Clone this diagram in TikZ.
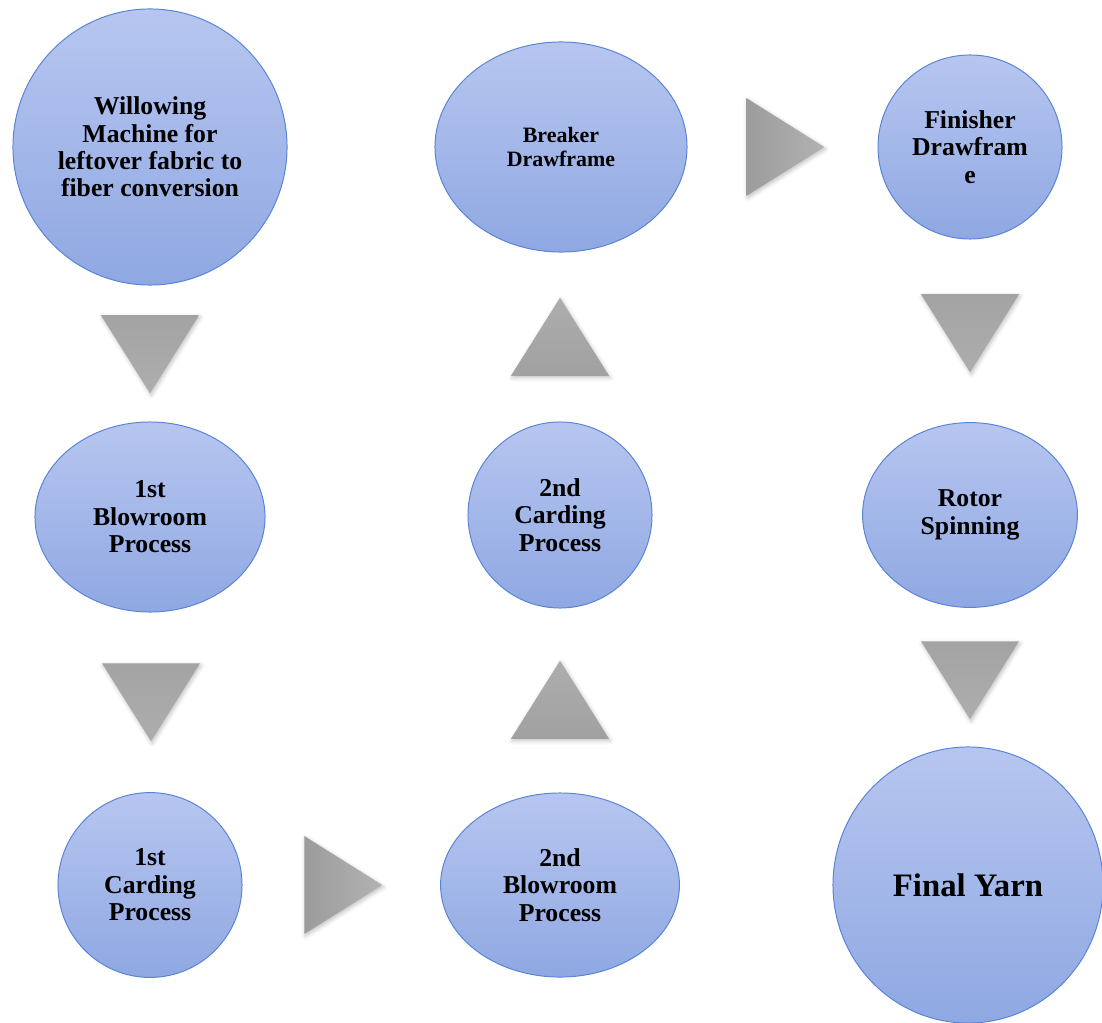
\documentclass[tikz,border=0pt]{standalone}
\usepackage{fontspec}
\setmainfont{Liberation Serif}
\usetikzlibrary{shapes.geometric,shadows.blur}
\definecolor{stagetop}{RGB}{183,198,240}
\definecolor{stagebot}{RGB}{143,168,226}
\definecolor{stageline}{RGB}{90,132,214}
\begin{document}
\begin{tikzpicture}[x=0.025cm, y=-0.025cm]
    \tikzstyle{stage} = [ellipse, draw=stageline, line width=0.7pt, top color=stagetop, bottom color=stagebot, inner sep=0pt, align=center, font=\fontsize{18.3}{19.5}\selectfont\bfseries]
    \tikzstyle{pointer} = [isosceles triangle, isosceles triangle stretches, inner sep=0pt, minimum height=1.95cm, minimum width=2.45cm, anchor=apex, blur shadow={shadow xshift=0.3mm, shadow yshift=-0.5mm, shadow blur radius=1mm, shadow opacity=25}]
    \tikzstyle{pdown} = [pointer, shape border rotate=270, top color=gray!72, bottom color=gray!64]
    \tikzstyle{pup} = [pointer, shape border rotate=90, top color=gray!64, bottom color=gray!74]
    \tikzstyle{pright} = [pointer, left color=gray!78, right color=gray!60]
    \useasboundingbox (0,0) rectangle (1102,1023);

    % first column
    \node (willow) [stage, minimum width=6.85cm, minimum height=6.9cm] at (150,147) {Willowing\\Machine for\\leftover fabric to\\fiber conversion};
    \node (blow1) [stage, minimum width=5.75cm, minimum height=4.75cm] at (150,517) {1st\\Blowroom\\Process};
    \node (card1) [stage, minimum width=4.6cm, minimum height=4.62cm] at (150,885) {1st\\Carding\\Process};

    % second column
    \node (blow2) [stage, minimum width=5.97cm, minimum height=4.6cm] at (560,885) {2nd\\Blowroom\\Process};
    \node (card2) [stage, minimum width=4.6cm, minimum height=4.65cm] at (560,515) {2nd\\Carding\\Process};
    \node (breaker) [stage, minimum width=6.3cm, minimum height=5.25cm, font=\fontsize{15.6}{16.4}\selectfont\bfseries] at (561,147) {Breaker\\Drawframe};

    % third column
    \node (finisher) [stage, minimum width=4.6cm, minimum height=4.6cm] at (970,147) {Finisher\\Drawfram\\e};
    \node (rotor) [stage, minimum width=5.37cm, minimum height=4.62cm] at (970,515) {Rotor\\Spinning};
    \node (yarn) [stage, minimum width=6.75cm, minimum height=6.9cm, font=\fontsize{23.3}{25}\selectfont\bfseries] at (968,885) {Final Yarn};

    % flow markers
    \node (down1) [pdown] at (150,394) {};
    \node (down2) [pdown] at (151,742) {};
    \node (right1) [pright] at (383,885) {};
    \node (up1) [pup] at (560,660) {};
    \node (up2) [pup] at (560,297) {};
    \node (right2) [pright] at (825,147) {};
    \node (down3) [pdown] at (970,373) {};
    \node (down4) [pdown] at (970,720) {};

\end{tikzpicture}
\end{document}
